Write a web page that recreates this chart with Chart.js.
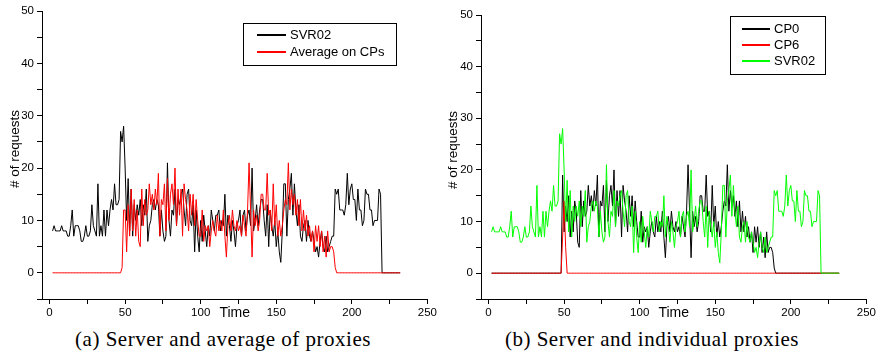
<!DOCTYPE html>
<html>
<head>
<meta charset="utf-8">
<script src="https://cdn.jsdelivr.net/npm/chart.js@4/dist/chart.umd.min.js"></script>
<style>
  body { margin: 0; background: #fff; width: 878px; height: 356px; position: relative; overflow: hidden; }
  canvas { position: absolute; top: 0; }
  #chartA { left: 0; }
  #chartB { left: 439px; }
  .caption { position: absolute; top: 327px; font: 21px "Liberation Serif", "Times New Roman", serif; color: #000; white-space: nowrap; transform: translateX(-50%); letter-spacing: 0.5px; }
</style>
</head>
<body>
<canvas id="chartA" width="439" height="322"></canvas>
<canvas id="chartB" width="439" height="322"></canvas>
<div class="caption" style="left:223px">(a) Server and average of proxies</div>
<div class="caption" style="left:652px">(b) Server and individual proxies</div>
<script>
// time axis starts at t = 2, one sample per time unit
const startTime = 2

const svr02 = [
  8, 9, 8, 8, 8, 8, 9, 8, 8, 8,
  7, 7, 9, 12, 7, 9, 9, 9, 8, 6,
  6, 7, 9, 7, 7, 8, 13, 9, 8, 7,
  17, 7, 9, 7, 12, 7, 12, 9, 12, 14,
  12, 17, 13, 13, 14, 27, 25, 28, 20, 10,
  18, 8, 16, 7, 13, 10, 13, 11, 14, 9,
  13, 11, 16, 6, 9, 10, 13, 14, 12, 14,
  13, 7, 12, 8, 6, 7, 21, 10, 7, 12,
  11, 16, 9, 14, 13, 15, 16, 12, 9, 15,
  16, 10, 9, 13, 4, 12, 7, 4, 10, 6,
  11, 8, 5, 9, 7, 12, 10, 8, 11, 11,
  12, 8, 10, 9, 15, 7, 11, 9, 6, 10,
  8, 5, 9, 10, 12, 7, 11, 12, 8, 11,
  12, 9, 20, 8, 10, 13, 9, 12, 14, 14,
  10, 7, 13, 5, 12, 9, 7, 10, 5, 8,
  4, 2, 8, 17, 17, 7, 14, 16, 19, 11,
  17, 12, 9, 13, 7, 6, 9, 10, 6, 10,
  7, 6, 8, 6, 4, 5, 3, 6, 8, 5,
  4, 7, 4, 5, 6, 7, 7, 16, 15, 16,
  12, 12, 12, 11, 13, 19, 13, 16, 17, 14,
  14, 10, 16, 12, 12, 9, 10, 16, 15, 15,
  12, 12, 9, 10, 10, 10, 16, 15, 0, 0,
  0, 0, 0, 0, 0, 0, 0, 0, 0, 0,
  0
]

const avgCPs = [
  0, 0, 0, 0, 0, 0, 0, 0, 0, 0,
  0, 0, 0, 0, 0, 0, 0, 0, 0, 0,
  0, 0, 0, 0, 0, 0, 0, 0, 0, 0,
  0, 0, 0, 0, 0, 0, 0, 0, 0, 0,
  0, 0, 0, 0, 0, 0, 1, 12, 12, 4,
  13, 7, 16, 8, 14, 7, 12, 6, 5, 16,
  9, 14, 11, 12, 17, 13, 15, 12, 16, 13,
  19, 7, 14, 13, 17, 8, 18, 10, 15, 17,
  13, 20, 9, 16, 11, 16, 7, 17, 14, 12,
  8, 15, 11, 15, 9, 14, 10, 7, 7, 12,
  6, 9, 8, 9, 5, 8, 10, 8, 7, 11,
  8, 10, 8, 12, 7, 3, 9, 11, 8, 12,
  9, 8, 10, 8, 9, 7, 11, 9, 7, 12,
  21, 12, 3, 12, 9, 11, 8, 10, 15, 15,
  12, 12, 19, 11, 12, 8, 17, 9, 13, 7,
  10, 7, 9, 12, 14, 13, 21, 12, 16, 13,
  15, 11, 14, 9, 14, 8, 12, 8, 11, 7,
  9, 6, 8, 4, 9, 6, 9, 5, 8, 4,
  7, 3, 8, 4, 5, 5, 4, 1, 0, 0,
  0, 0, 0, 0, 0, 0, 0, 0, 0, 0,
  0, 0, 0, 0, 0, 0, 0, 0, 0, 0,
  0, 0, 0, 0, 0, 0, 0, 0, 0, 0,
  0, 0, 0, 0, 0, 0, 0, 0, 0, 0,
  0
]

const cp0 = [
  0, 0, 0, 0, 0, 0, 0, 0, 0, 0,
  0, 0, 0, 0, 0, 0, 0, 0, 0, 0,
  0, 0, 0, 0, 0, 0, 0, 0, 0, 0,
  0, 0, 0, 0, 0, 0, 0, 0, 0, 0,
  0, 0, 0, 0, 0, 0, 0, 19, 8, 13,
  10, 15, 7, 12, 8, 14, 12, 6, 5, 16,
  9, 14, 11, 12, 17, 13, 15, 12, 16, 13,
  19, 7, 14, 13, 17, 8, 18, 10, 15, 17,
  13, 20, 9, 16, 11, 16, 7, 17, 14, 12,
  8, 15, 11, 15, 9, 14, 10, 7, 7, 12,
  6, 9, 8, 9, 5, 8, 10, 8, 7, 11,
  8, 10, 8, 12, 7, 3, 9, 11, 8, 12,
  9, 8, 10, 8, 9, 7, 11, 9, 7, 12,
  21, 12, 3, 12, 9, 11, 8, 10, 15, 15,
  12, 12, 19, 11, 12, 8, 17, 9, 13, 7,
  10, 7, 9, 12, 14, 13, 21, 12, 16, 13,
  15, 11, 14, 9, 14, 8, 12, 8, 11, 7,
  9, 6, 8, 4, 9, 6, 9, 5, 8, 4,
  7, 3, 8, 4, 5, 5, 4, 1, 0, 0,
  0, 0, 0, 0, 0, 0, 0, 0, 0, 0,
  0, 0, 0, 0, 0, 0, 0, 0, 0, 0,
  0, 0, 0, 0, 0, 0, 0, 0, 0, 0,
  0, 0, 0, 0, 0, 0, 0, 0, 0, 0,
  0
]

const cp6 = [
  0, 0, 0, 0, 0, 0, 0, 0, 0, 0,
  0, 0, 0, 0, 0, 0, 0, 0, 0, 0,
  0, 0, 0, 0, 0, 0, 0, 0, 0, 0,
  0, 0, 0, 0, 0, 0, 0, 0, 0, 0,
  0, 0, 0, 0, 0, 0, 0, 7, 14, 5,
  0, 0, 0, 0, 0, 0, 0, 0, 0, 0,
  0, 0, 0, 0, 0, 0, 0, 0, 0, 0,
  0, 0, 0, 0, 0, 0, 0, 0, 0, 0,
  0, 0, 0, 0, 0, 0, 0, 0, 0, 0,
  0, 0, 0, 0, 0, 0, 0, 0, 0, 0,
  0, 0, 0, 0, 0, 0, 0, 0, 0, 0,
  0, 0, 0, 0, 0, 0, 0, 0, 0, 0,
  0, 0, 0, 0, 0, 0, 0, 0, 0, 0,
  0, 0, 0, 0, 0, 0, 0, 0, 0, 0,
  0, 0, 0, 0, 0, 0, 0, 0, 0, 0,
  0, 0, 0, 0, 0, 0, 0, 0, 0, 0,
  0, 0, 0, 0, 0, 0, 0, 0, 0, 0,
  0, 0, 0, 0, 0, 0, 0, 0, 0, 0,
  0, 0, 0, 0, 0, 0, 0, 0, 0, 0,
  0, 0, 0, 0, 0, 0, 0, 0, 0, 0,
  0, 0, 0, 0, 0, 0, 0, 0, 0, 0,
  0, 0, 0, 0, 0, 0, 0, 0, 0, 0,
  0, 0, 0, 0, 0, 0, 0, 0, 0, 0,
  0
]

const xTicks = [0, 50, 100, 150, 200, 250]
const yTicks = [0, 10, 20, 30, 40, 50]

Chart.defaults.font.family = '"Liberation Sans", Arial, sans-serif'
Chart.defaults.color = '#000'

function toPoints(values) {
  return values.map((v, i) => ({ x: startTime + i, y: v }))
}

function lineSet(label, values, color, order) {
  return {
    label: label,
    data: toPoints(values),
    borderColor: color,
    backgroundColor: color,
    borderWidth: 1,
    pointRadius: 0,
    tension: 0,
    fill: false,
    order: order,
  }
}

// boxed legend inside the plot, plus the axis texts placed like the original
function boxLegend(items, box) {
  return {
    id: 'boxLegend',
    afterDraw(chart) {
      const ctx = chart.ctx
      ctx.save()
      ctx.fillStyle = '#fff'
      ctx.fillRect(box.x, box.y, box.w, box.h)
      ctx.strokeStyle = '#000'
      ctx.lineWidth = 1
      ctx.strokeRect(box.x + 0.5, box.y + 0.5, box.w, box.h)
      ctx.font = '13px "Liberation Sans", Arial, sans-serif'
      ctx.textBaseline = 'middle'
      ctx.textAlign = 'left'
      for (let i = 0; i < items.length; i++) {
        const y = Math.round(box.rowY + i * box.rowH)
        ctx.fillStyle = items[i].color
        ctx.fillRect(box.lineX, y - 1, box.lineW, 2)
      }
      ctx.fillStyle = '#000'
      for (let i = 0; i < items.length; i++) {
        const y = Math.round(box.rowY + i * box.rowH)
        ctx.fillText(items[i].label, box.textX, y)
      }

      // "Time" sits on the tick label row
      ctx.font = '14px "Liberation Sans", Arial, sans-serif'
      ctx.textAlign = 'center'
      ctx.fillText('Time', chart.scales.x.getPixelForValue(122.5), 313)

      // y title
      ctx.translate(box.titleX, box.titleY)
      ctx.rotate(-Math.PI / 2)
      ctx.font = '13.5px "Liberation Sans", Arial, sans-serif'
      ctx.fillText('# of requests', 0, 0)
      ctx.restore()
    }
  }
}

function makeConfig(datasets, legendItems, legendBox, pad) {
  return {
    type: 'line',
    data: { datasets: datasets },
    plugins: [boxLegend(legendItems, legendBox)],
    options: {
      responsive: false,
      animation: false,
      events: [],
      layout: { padding: { top: pad.top, right: pad.right, left: 0, bottom: 0 } },
      plugins: { legend: { display: false }, tooltip: { enabled: false } },
      scales: {
        x: {
          type: 'linear',
          min: -5,
          max: 250,
          border: { display: true, color: '#000', width: 1 },
          grid: { drawOnChartArea: false, drawTicks: true, tickLength: 5, color: '#000' },
          ticks: {
            stepSize: 25,
            includeBounds: false,
            autoSkip: false,
            maxRotation: 0,
            padding: 2,
            font: { size: 11.5 },
            callback: (v) => xTicks.includes(v) ? String(v) : '',
          },
          afterFit: (scale) => { scale.height = 23 },
        },
        y: {
          min: -5,
          max: 50,
          border: { display: true, color: '#000', width: 1 },
          grid: { drawOnChartArea: false, drawTicks: true, tickLength: 5, color: '#000' },
          ticks: {
            stepSize: 5,
            autoSkip: false,
            padding: 3,
            font: { size: 11.5 },
            callback: (v) => yTicks.includes(v) ? String(v) : '',
          },
          afterFit: (scale) => { scale.width = 42 },
        },
      },
    },
  }
}

new Chart(document.getElementById('chartA'), makeConfig(
  [
    lineSet('SVR02', svr02, '#000000', 2),
    lineSet('Average on CPs', avgCPs, '#ff0000', 1),
  ],
  [
    { label: 'SVR02', color: '#000000' },
    { label: 'Average on CPs', color: '#ff0000' },
  ],
  { x: 243, y: 23, w: 153, h: 42, lineX: 257, lineW: 29, textX: 290, rowY: 35, rowH: 17.3, titleX: 15, titleY: 149 },
  { top: 11, right: 10.7 }
))

new Chart(document.getElementById('chartB'), makeConfig(
  [
    lineSet('CP0', cp0, '#000000', 3),
    lineSet('CP6', cp6, '#ff0000', 2),
    lineSet('SVR02', svr02, '#00ff00', 1),
  ],
  [
    { label: 'CP0', color: '#000000' },
    { label: 'CP6', color: '#ff0000' },
    { label: 'SVR02', color: '#00ff00' },
  ],
  { x: 291, y: 16, w: 95, h: 58, lineX: 303, lineW: 28, textX: 335, rowY: 28.5, rowH: 16.2, titleX: 14.5, titleY: 150 },
  { top: 15, right: 9.7 }
))
</script>
</body>
</html>
